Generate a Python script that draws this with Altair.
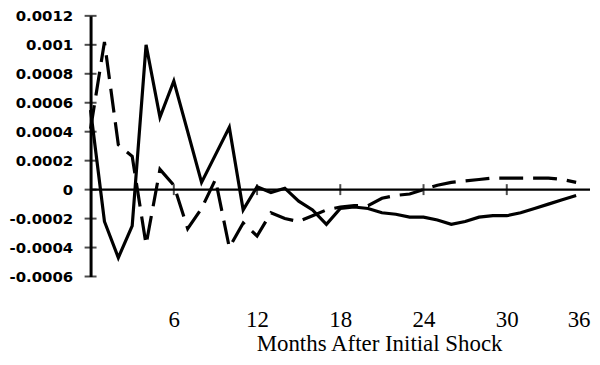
import altair as alt
import pandas as pd

# ---- data ----
months = list(range(36))
solid = [0.00055, -0.00022, -0.00047, -0.00025, 0.00100, 0.00050, 0.00075, 0.00040,
         0.00005, 0.00024, 0.00043, -0.00014, 0.00002, -0.00002, 0.00001, -0.00008,
         -0.00014, -0.00024, -0.00013, -0.00012, -0.00013, -0.00016, -0.00017, -0.00019,
         -0.00019, -0.00021, -0.00024, -0.00022, -0.00019, -0.00018, -0.00018, -0.00016,
         -0.00013, -0.00010, -0.00007, -0.00004]
dashed = [0.00042, 0.00102, 0.00031, 0.00023, -0.00038, 0.00014, 0.00003, -0.00027,
          -0.00013, 0.00007, -0.00040, -0.00023, -0.00032, -0.00016, -0.00020, -0.00022,
          -0.00018, -0.00014, -0.00012, -0.00011, -0.00011, -0.00006, -0.00004, -0.00003,
          0.00000, 0.00003, 0.00005, 0.00006, 0.00007, 0.00008, 0.00008, 0.00008,
          0.00008, 0.00008, 0.00007, 0.00005]
y_ticks = [-0.0006, -0.0004, -0.0002, 0.0, 0.0002, 0.0004, 0.0006, 0.0008, 0.001, 0.0012]
x_ticks = [6, 12, 18, 24, 30, 36]
zero_ticks = [6, 12, 18, 24, 30]
x_title = "Months After Initial Shock"

df_solid = pd.DataFrame({"month": months, "value": solid})
df_dashed = pd.DataFrame({"month": months, "value": dashed})
df_zero = pd.DataFrame({"month": [0], "month2": [36], "value": [0.0]})
df_zt = pd.DataFrame({"month": zero_ticks, "value": [0.0] * len(zero_ticks)})
df_yt = pd.DataFrame({"month": [0] * len(y_ticks), "value": y_ticks})

xscale = alt.Scale(domain=[0, 36], nice=False, zero=False)
yscale = alt.Scale(domain=[-0.0006, 0.0012], nice=False, zero=False)

xaxis = alt.Axis(values=x_ticks, domain=False, ticks=False, grid=False,
                 labelFont="Liberation Serif", labelFontSize=23, labelColor="black",
                 labelPadding=32, labelFlush=True, labelAngle=0, labelOverlap=False,
                 title=x_title, titleFont="Liberation Serif", titleFontSize=23,
                 titleFontWeight="normal", titleColor="black",
                 titleX=290, titleY=74, titleAlign="center", titleBaseline="alphabetic")
yaxis = alt.Axis(values=y_ticks, domain=True, domainColor="black", domainWidth=3,
                 ticks=False, grid=False, labelFont="DejaVu Sans", labelFontWeight="bold",
                 labelFontSize=15, labelColor="black", labelPadding=18, labelOverlap=False,
                 labelExpr="replace(format(datum.value, '~g'), '\u2212', '-')", title=None)

X = alt.X("month:Q", scale=xscale, axis=xaxis)
Y = alt.Y("value:Q", scale=yscale, axis=yaxis)

line_solid = alt.Chart(df_solid).mark_line(color="black", strokeWidth=3.2,
                                           strokeJoin="miter").encode(x=X, y=Y)
line_dashed = alt.Chart(df_dashed).mark_line(color="black", strokeWidth=3.2,
                                             strokeDash=[24, 10]).encode(x=X, y=Y)

zero = alt.Chart(df_zero).mark_rule(color="black", strokeWidth=2.2).encode(
    x=X, x2="month2", y=Y)
zero_ticks_m = alt.Chart(df_zt).mark_tick(color="black", orient="vertical",
                                          size=11, thickness=2).encode(x=X, y=Y)
y_ticks_m = alt.Chart(df_yt).mark_tick(color="black", orient="horizontal",
                                       size=12, thickness=2).encode(x=X, y=Y)

chart = alt.layer(line_solid, line_dashed, zero, zero_ticks_m, y_ticks_m).properties(
    width=502, height=262, padding=0, background="white"
).configure_view(stroke=None)

chart.save("out.html", embed_options={"renderer": "svg", "actions": False})
